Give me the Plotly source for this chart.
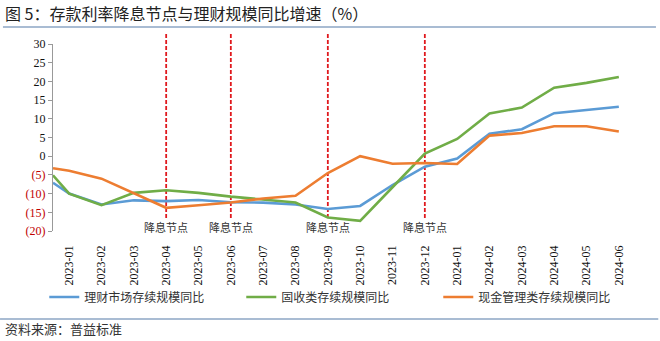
import plotly.graph_objects as go

# ---- data ----
months = ["2023-01", "2023-02", "2023-03", "2023-04", "2023-05", "2023-06",
          "2023-07", "2023-08", "2023-09", "2023-10", "2023-11", "2023-12",
          "2024-01", "2024-02", "2024-03", "2024-04", "2024-05", "2024-06"]
# first value = starting point at left edge of axis, then one value per month
wealth_total = [-7.1, -10.0, -12.9, -11.8, -12.0, -11.7, -12.3, -12.4, -12.9, -14.1, -13.3,
                -7.7, -2.8, -0.6, 6.0, 7.2, 11.5, 12.3, 13.2]
fixed_income = [-5.1, -10.0, -13.1, -9.8, -9.1, -9.8, -10.8, -11.5, -12.4, -16.4, -17.3,
                -8.3, 0.7, 4.6, 11.4, 13.0, 18.3, 19.6, 21.2]
cash_mgmt = [-3.2, -3.9, -6.0, -10.0, -13.8, -13.1, -12.4, -11.3, -10.6, -4.5, 0.0,
             -2.0, -1.8, -2.1, 5.5, 6.2, 8.0, 8.0, 6.6]
series_names = ["理财市场存续规模同比", "固收类存续规模同比", "现金管理类存续规模同比"]
series_colors = ["#5B9BD5", "#70AD47", "#ED7D31"]
cut_months = ["2023-04", "2023-06", "2023-09", "2023-12"]
cut_label = "降息节点"
y_ticks = [-20, -15, -10, -5, 0, 5, 10, 15, 20, 25, 30]

title_text = "图 5：存款利率降息节点与理财规模同比增速（%）"
source_text = "资料来源：普益标准"

x_pos = [-0.5] + list(range(len(months)))

fig = go.Figure()
for name, vals, col in zip(series_names, [wealth_total, fixed_income, cash_mgmt], series_colors):
    fig.add_trace(go.Scatter(x=x_pos, y=vals, mode="lines", name=name,
                             line=dict(color=col, width=2.6), hoverinfo="skip"))

ytext = [str(v) if v >= 0 else '<span style="color:#C00000">(%d)</span>' % (-v) for v in y_ticks]

serif = "Liberation Serif"
cjk = "Noto Sans CJK SC"

shapes = []
annotations = []
for m in cut_months:
    xi = months.index(m)
    shapes.append(dict(type="line", xref="x", yref="paper", x0=xi, x1=xi, y0=0.07, y1=1.06,
                       line=dict(color="#E0191E", width=1.8, dash="4px,2px"), layer="below"))
    annotations.append(dict(x=xi, y=-18.9, xref="x", yref="y", text=cut_label, showarrow=False,
                            font=dict(family=cjk, size=11, color="#333333"),
                            xanchor="center", yanchor="middle"))

# title / footer rules
shapes.append(dict(type="line", xref="paper", yref="paper", x0=-0.086, x1=1.036, y0=1.091, y1=1.091,
                   line=dict(color="#8DA6C4", width=1.5)))
shapes.append(dict(type="line", xref="paper", yref="paper", x0=-0.091, x1=1.04, y0=-0.47, y1=-0.47,
                   line=dict(color="#8DA6C4", width=1.5)))

annotations.append(dict(x=-0.086, y=1.166, xref="paper", yref="paper", text=title_text, showarrow=False,
                        xanchor="left", yanchor="middle", font=dict(family=cjk, size=16, color="#222222")))
annotations.append(dict(x=-0.086, y=-0.519, xref="paper", yref="paper", text=source_text, showarrow=False,
                        xanchor="left", yanchor="middle", font=dict(family=cjk, size=13, color="#333333")))

fig.update_layout(
    width=660, height=341,
    margin=dict(l=53, r=25, t=44, b=110),
    paper_bgcolor="white", plot_bgcolor="white",
    showlegend=True,
    legend=dict(orientation="h", x=-0.015, xanchor="left", y=-0.353, yanchor="middle",
                entrywidth=152, entrywidthmode="pixels", tracegroupgap=0,
                font=dict(family=cjk, size=12, color="#333333"), bgcolor="rgba(0,0,0,0)"),
    xaxis=dict(range=[-0.5, len(months) - 0.5], tickvals=list(range(len(months))), ticktext=months,
               tickangle=-90, showline=False, ticks="", showgrid=False, zeroline=False,
               ticklabelstandoff=11,
               tickfont=dict(family=serif, size=12, color="#111111")),
    xaxis2=dict(overlaying="x", anchor="free", position=0.4, side="bottom",
                range=[-0.5, len(months) - 0.5],
                tickvals=[k + 0.5 for k in range(len(months))],
                showticklabels=False, showline=True, linecolor="#999999", linewidth=1,
                ticks="outside", ticklen=5, tickcolor="#999999", showgrid=False, zeroline=False),
    yaxis=dict(range=[-20, 30], tickvals=y_ticks, ticktext=ytext, showgrid=False, zeroline=False,
               showline=True, linecolor="#999999", linewidth=1, ticks="outside", ticklen=4,
               tickcolor="#999999", tickfont=dict(family=serif, size=12, color="#111111")),
    shapes=shapes,
    annotations=annotations,
)

fig.write_html("out.html")
